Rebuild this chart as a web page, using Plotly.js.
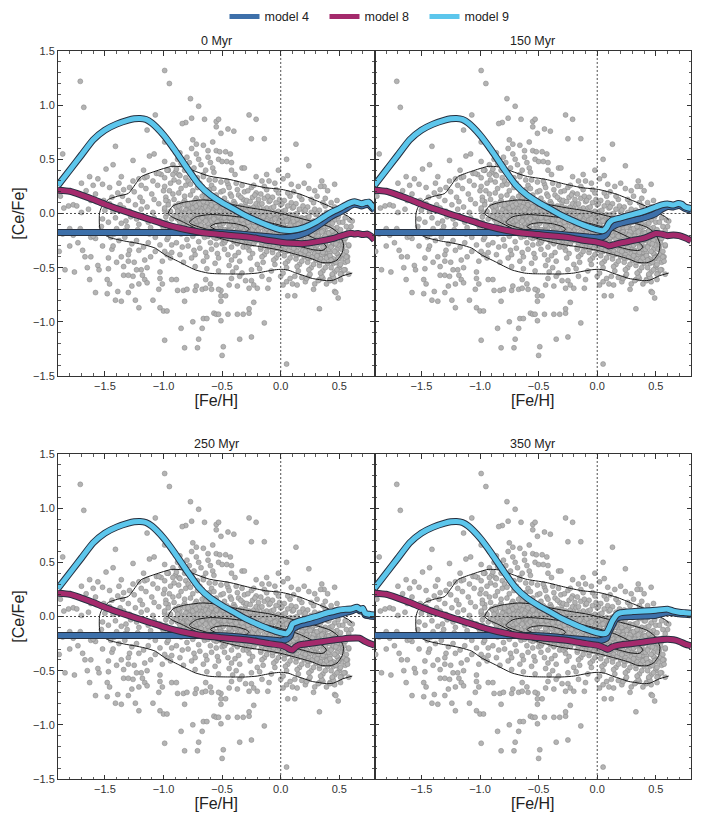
<!DOCTYPE html>
<html><head><meta charset="utf-8">
<script src="https://cdn.plot.ly/plotly-3.0.1.min.js"></script>
<style>html,body{margin:0;padding:0;background:#fff}#chart{width:703px;height:814px}</style>
</head><body><div id="chart"></div>
<script>
// ---------------- DATA ----------------
const panelTitles = ['0 Myr', '150 Myr', '250 Myr', '350 Myr'];
const modelNames = ['model 4', 'model 8', 'model 9'];

// stars: [Fe/H], [Ce/Fe] pairs
const starsUpper = [[-0.99,1.32],[-0.95,1.20],[-1.71,1.22],[-1.68,0.98],[-0.77,1.06],[-0.70,0.99],[-1.07,0.91],[-0.65,0.87],[-0.76,0.88],[-0.81,0.84],[-0.84,0.83],[-1.14,0.77],[-0.55,0.85],[-0.75,0.68],[-0.99,0.66],[-0.66,0.63],[-0.55,0.58],[-1.86,0.55],[-1.41,0.62],[-1.12,0.53],[-1.08,0.55],[-1.26,0.49],[-1.49,0.41],[-1.36,0.34],[-1.63,0.34],[-1.56,0.32],[-1.43,0.45],[-1.17,0.40],[-1.21,0.32],[-0.99,0.48],
[-0.27,0.91],[-0.21,0.87],[-0.25,0.69],[-0.14,0.69],[-0.53,0.87],[-0.55,0.80],[-0.51,0.74],[-0.45,0.78],[-0.40,0.76],[0.13,0.64],[0.05,0.50],[0.24,0.44],[-0.52,0.57],[-0.47,0.57],[-0.43,0.55],[-0.53,0.50],[-0.50,0.48],[-0.46,0.48],[-0.42,0.47],[-0.33,0.42],[-0.31,0.42],[-0.42,0.40],[-0.39,0.36],[-0.21,0.34],[-0.16,0.30],[-0.10,0.30],[-0.05,0.28],[0.02,0.32],[0.06,0.35],[0.11,0.20],[0.24,0.23],[0.29,0.21],[0.35,0.30],[0.37,0.25],[0.34,0.25],[0.46,0.27],[0.40,0.21],
[-0.92,0.45],[-0.88,0.50],[-0.85,0.46],[-0.80,0.52],[-0.78,0.47],[-0.72,0.55],[-0.70,0.50],[-0.68,0.45],[-0.62,0.52],[-0.60,0.47],[-0.58,0.42],[-0.64,0.40],[-0.74,0.42],[-0.82,0.40],[-0.90,0.38],[-0.96,0.40],[-1.02,0.36],[-0.87,0.36],[-0.66,0.36],[-0.57,0.38],[-0.76,0.60],[-0.62,0.58],[-0.86,0.56],[-0.72,0.64],[-0.58,0.66],[-0.92,0.60],
[0.55,0.05],[0.52,0.05],[0.48,0.12],[0.43,0.10],[0.38,0.14],[0.31,0.16],[0.20,0.28],[0.15,0.25],[-0.02,0.40],[0.09,0.27],[-0.12,0.36]];

const starsLeft = [[-1.81,0.07],[-1.77,0.08],[-1.74,0.07],[-1.66,0.21],[-1.60,0.26],[-1.70,0.28],[-1.88,0.16],[-1.62,0.12],[-1.58,0.18],[-1.85,0.05],[-1.52,0.27],[-1.46,0.24],[-1.38,0.28],[-1.34,0.22],[-1.70,0.01],[-1.64,0.04]];

const starsLower = [[-1.80,-0.30],[-1.84,-0.52],[-1.76,-0.54],[-1.69,-0.34],[-1.67,-0.40],[-1.62,-0.40],[-1.65,-0.50],[-1.63,-0.61],[-1.58,-0.73],[-1.47,-0.41],[-1.56,-0.48],[-1.55,-0.52],[-1.47,-0.51],[-1.48,-0.61],[-1.46,-0.65],[-1.48,-0.74],[-1.39,-0.72],[-1.41,-0.80],[-1.36,-0.81],[-1.34,-0.49],[-1.30,-0.44],[-1.29,-0.34],[-1.30,-0.38],[-1.34,-0.57],[-1.30,-0.57],[-1.30,-0.73],[-1.27,-0.67],[-1.24,-0.80],[-1.21,-0.65],[-1.21,-0.87],[-1.18,-0.57],[-1.16,-0.61],[-1.14,-0.64],[-1.14,-0.50],[-1.19,-0.52],[-1.23,-0.52],[-1.25,-0.45],[-1.16,-0.43],[-1.09,-0.80],[-1.03,-0.54],[-1.03,-0.60],[-1.01,-0.65],[-1.04,-0.70],[-1.03,-0.87],[-1.00,-0.90],[-0.97,-0.90],[-0.99,-1.17],[-0.93,-0.61],[-0.89,-0.61],[-0.88,-0.71],[-0.83,-0.71],[-0.82,-0.81],[-0.80,-0.70],[-0.85,-1.06],[-0.82,-1.24],[-0.75,-1.00],[-0.70,-1.16],[-0.71,-1.24],[-0.67,-1.06],[-0.66,-0.97],[-0.63,-0.97],[-0.73,-0.71],[-0.72,-0.67],[-0.67,-0.70],[-0.64,-0.69],[-0.59,-0.70],[-0.60,-0.65],[-0.64,-0.61],[-0.57,-0.92],[-1.86,-0.19],[-1.80,-0.14],[-1.71,-0.14],[-1.77,-0.20],[-1.62,-0.22],[-1.58,-0.23],[-1.60,-0.21],[-1.89,-0.35],[-1.73,-0.27],[-1.52,-0.30],[-1.44,-0.33],[-1.40,-0.45],[-1.36,-0.40],[-1.26,-0.58]];

const starsLowerRight = [[0.05,-1.39],[-0.49,-1.23],[-0.50,-1.31],[-0.35,-1.16],[-0.25,-1.14],[-0.14,-1.01],[-0.51,-0.99],[-0.55,-0.93],[-0.53,-0.93],[-0.45,-0.93],[-0.37,-0.93],[-0.32,-0.93],[-0.27,-0.92],[-0.27,-0.88],[-0.23,-0.82],[0.33,-0.88],[0.06,-0.76],[0.12,-0.76],[0.46,-0.72],[0.47,-0.73],[0.49,-0.78],[-0.51,-0.76],[-0.51,-0.81],[-0.47,-0.76],[-0.51,-0.71],[-0.53,-0.70],[-0.37,-0.67],[-0.27,-0.69],[-0.25,-0.62],[-0.23,-0.66],[-0.20,-0.69],[-0.11,-0.69],[-0.10,-0.61],[0.00,-0.58],[0.02,-0.66],[0.05,-0.63],[0.10,-0.65],[0.14,-0.66],[0.21,-0.63],[0.28,-0.70],[0.29,-0.65],[0.39,-0.65],[0.33,-0.61],[0.36,-0.60],[0.42,-0.61],[0.46,-0.63],[0.51,-0.61],[0.58,-0.56],[-0.42,-0.60],[-0.35,-0.58],[-0.30,-0.62],[-0.44,-0.66],[-0.16,-0.58],[0.08,-0.60],[0.18,-0.59],[0.24,-0.58],[0.44,-0.57],[0.52,-0.55],[0.55,-0.52],[0.50,-0.50],[0.59,-0.06],[0.61,-0.07],[0.60,-0.12],[0.56,-0.20],[0.58,-0.30],[0.57,-0.40],[0.55,-0.45]];

const starsBandMetalPoor = [[-1.53,-0.12],[-1.50,0.03],[-1.48,-0.18],[-1.46,0.09],[-1.52,-0.05],[-1.47,-0.08],[-1.51,0.12],[-1.45,-0.22],
[-1.43,0.02],[-1.40,-0.14],[-1.44,0.15],[-1.38,-0.25],[-1.41,-0.04],[-1.37,0.08],[-1.42,-0.19],[-1.39,0.19],[-1.36,-0.09],[-1.43,-0.30],
[-1.34,0.05],[-1.31,-0.12],[-1.29,0.24],[-1.33,-0.22],[-1.30,0.12],[-1.28,-0.03],[-1.35,0.16],[-1.27,-0.28],[-1.32,-0.07],[-1.29,0.02],[-1.26,0.30],[-1.33,-0.16],
[-1.24,0.08],[-1.21,-0.10],[-1.19,0.26],[-1.23,-0.25],[-1.20,0.15],[-1.18,-0.02],[-1.25,0.20],[-1.17,-0.31],[-1.22,-0.15],[-1.19,0.04],[-1.16,0.33],[-1.23,-0.05],[-1.18,0.11],[-1.21,-0.34],
[-1.14,0.06],[-1.11,-0.13],[-1.09,0.30],[-1.13,-0.27],[-1.10,0.18],[-1.08,-0.04],[-1.15,0.23],[-1.07,-0.35],[-1.12,-0.19],[-1.09,0.01],[-1.06,0.37],[-1.13,-0.08],[-1.08,0.13],[-1.11,-0.40],[-1.14,0.34],[-1.07,-0.22],
[-1.04,0.09],[-1.01,-0.11],[-0.99,0.33],[-1.03,-0.29],[-1.00,0.21],[-0.98,-0.03],[-1.05,0.26],[-0.97,-0.38],[-1.02,-0.18],[-0.99,0.03],[-0.96,0.40],[-1.03,-0.07],[-0.98,0.15],[-1.01,-0.44],[-1.04,0.37],[-0.97,-0.24],[-1.00,-0.14],[-0.96,0.11]];

const starsBandMid = [[-0.98,0.12],[-0.93,-0.05],[-0.91,0.31],[-0.96,-0.22],[-0.94,0.02],[-0.99,-0.35],[-0.92,0.18],[-0.97,0.40],[-0.95,-0.12],[-0.90,0.07],[-0.93,-0.29],[-0.99,0.25],[-0.91,-0.02],[-0.96,0.08],[-0.94,-0.41],[-0.92,0.36],[-0.98,-0.08],[-0.90,-0.17],[-0.95,0.21],[-0.97,0.00],[-0.91,0.13],[-0.93,-0.36],[-0.99,0.05],[-0.94,0.28],
[-0.88,0.04],[-0.84,-0.11],[-0.81,0.26],[-0.86,0.35],[-0.83,-0.03],[-0.89,-0.27],[-0.82,0.12],[-0.87,0.19],[-0.85,-0.19],[-0.80,0.07],[-0.86,-0.38],[-0.89,0.41],[-0.82,-0.07],[-0.84,0.01],[-0.88,-0.14],[-0.81,0.33],[-0.87,0.09],[-0.83,-0.45],[-0.85,0.23],[-0.80,-0.24],[-0.86,-0.01],[-0.82,0.16],[-0.89,0.06],[-0.84,-0.31],[-0.81,-0.09],[-0.87,0.29],[-0.83,0.10],[-0.88,-0.05],
[-0.78,0.02],[-0.74,-0.13],[-0.71,0.24],[-0.76,0.37],[-0.73,-0.06],[-0.79,-0.30],[-0.72,0.10],[-0.77,0.17],[-0.75,-0.21],[-0.70,0.05],[-0.76,-0.41],[-0.79,0.30],[-0.72,-0.09],[-0.74,-0.01],[-0.78,-0.16],[-0.71,0.33],[-0.77,0.08],[-0.73,-0.49],[-0.75,0.21],[-0.70,-0.26],[-0.76,-0.03],[-0.72,0.14],[-0.79,0.04],[-0.74,-0.34],[-0.71,-0.11],[-0.77,0.27],[-0.73,0.12],[-0.78,-0.07],[-0.75,-0.18],[-0.71,-0.02],[-0.76,0.09],[-0.73,-0.38],
[-0.68,0.01],[-0.64,-0.14],[-0.61,0.22],[-0.66,0.34],[-0.63,-0.07],[-0.69,-0.32],[-0.62,0.09],[-0.67,0.16],[-0.65,-0.22],[-0.60,0.03],[-0.66,-0.44],[-0.69,0.28],[-0.62,-0.10],[-0.64,-0.03],[-0.68,-0.17],[-0.61,0.31],[-0.67,0.07],[-0.63,-0.51],[-0.65,0.19],[-0.60,-0.27],[-0.66,-0.05],[-0.62,0.12],[-0.69,0.05],[-0.64,-0.36],[-0.61,-0.12],[-0.67,0.25],[-0.63,0.11],[-0.68,-0.08],[-0.65,-0.19],[-0.61,-0.03],[-0.66,0.08],[-0.63,-0.40],[-0.69,-0.12],[-0.62,-0.21],[-0.67,-0.01],[-0.64,0.14],
[-0.58,0.00],[-0.54,-0.15],[-0.51,0.20],[-0.56,0.31],[-0.53,-0.08],[-0.59,-0.33],[-0.52,0.08],[-0.57,0.15],[-0.55,-0.23],[-0.50,0.02],[-0.56,-0.46],[-0.59,0.26],[-0.52,-0.11],[-0.54,-0.04],[-0.58,-0.18],[-0.51,0.29],[-0.57,0.06],[-0.53,-0.53],[-0.55,0.17],[-0.50,-0.28],[-0.56,-0.06],[-0.52,0.11],[-0.59,0.04],[-0.54,-0.37],[-0.51,-0.13],[-0.57,0.23],[-0.53,0.10],[-0.58,-0.09],[-0.55,-0.20],[-0.51,-0.04],[-0.56,0.07],[-0.53,-0.41],[-0.59,-0.14],[-0.52,-0.22],[-0.57,-0.02],[-0.54,0.13],[-0.50,-0.17],[-0.55,-0.29]];

const starsBandCore = [[-0.47,-0.02],[-0.43,0.18],[-0.49,-0.24],[-0.41,-0.09],[-0.45,0.27],[-0.48,0.06],[-0.42,-0.31],[-0.46,-0.15],[-0.40,0.11],[-0.44,-0.48],[-0.49,0.21],[-0.43,-0.05],[-0.47,-0.19],[-0.41,0.02],[-0.45,-0.38],[-0.48,0.14],[-0.42,-0.12],[-0.46,0.30],[-0.40,-0.26],[-0.44,0.08],[-0.49,-0.07],[-0.43,-0.21],[-0.47,0.04],[-0.41,-0.54],[-0.45,-0.16],[-0.48,-0.33],[-0.42,0.16],[-0.46,-0.01],[-0.40,-0.10],[-0.44,0.24],[-0.48,-0.27],[-0.42,-0.43],[-0.46,0.10],[-0.43,-0.14],[-0.47,-0.22],[-0.41,0.06],[-0.45,-0.04],[-0.49,0.00],
[-0.38,-0.11],[-0.34,0.07],[-0.31,-0.27],[-0.37,0.22],[-0.33,-0.04],[-0.39,-0.19],[-0.32,0.13],[-0.36,-0.36],[-0.30,-0.08],[-0.35,0.01],[-0.38,-0.50],[-0.33,0.26],[-0.37,-0.14],[-0.31,-0.02],[-0.34,-0.23],[-0.39,0.09],[-0.32,-0.31],[-0.36,0.17],[-0.30,-0.17],[-0.35,-0.44],[-0.38,0.04],[-0.33,-0.12],[-0.37,-0.28],[-0.31,0.20],[-0.34,-0.06],[-0.39,-0.39],[-0.32,0.00],[-0.36,-0.21],[-0.30,0.10],[-0.35,-0.15],[-0.38,0.28],[-0.33,-0.55],[-0.37,-0.01],[-0.31,-0.13],[-0.34,0.15],[-0.39,-0.25],[-0.32,-0.09],[-0.36,0.05],
[-0.28,0.03],[-0.24,-0.16],[-0.21,0.19],[-0.27,-0.29],[-0.23,-0.05],[-0.29,0.12],[-0.22,-0.22],[-0.26,-0.41],[-0.20,-0.10],[-0.25,0.24],[-0.28,-0.18],[-0.23,0.06],[-0.27,-0.34],[-0.21,-0.01],[-0.24,0.15],[-0.29,-0.25],[-0.22,-0.13],[-0.26,0.00],[-0.20,-0.47],[-0.25,-0.08],[-0.28,0.21],[-0.23,-0.27],[-0.27,-0.11],[-0.21,0.09],[-0.24,-0.37],[-0.29,-0.03],[-0.22,0.17],[-0.26,-0.20],[-0.20,0.02],[-0.25,-0.52],[-0.28,-0.14],[-0.23,0.26],[-0.27,0.05],[-0.21,-0.24],[-0.24,-0.07],[-0.29,-0.31],[-0.22,-0.17],[-0.26,0.11],
[-0.18,-0.04],[-0.14,0.14],[-0.11,-0.21],[-0.17,-0.33],[-0.13,0.02],[-0.19,-0.14],[-0.12,0.22],[-0.16,-0.27],[-0.10,-0.09],[-0.15,-0.45],[-0.18,0.08],[-0.13,-0.18],[-0.17,0.18],[-0.11,-0.03],[-0.14,-0.38],[-0.19,-0.22],[-0.12,0.05],[-0.16,-0.12],[-0.10,0.11],[-0.15,-0.29],[-0.18,-0.51],[-0.13,-0.07],[-0.17,0.00],[-0.11,-0.25],[-0.14,0.25],[-0.19,0.13],[-0.12,-0.16],[-0.16,-0.40],[-0.10,-0.31],[-0.15,0.04],[-0.18,-0.19],[-0.13,-0.11],[-0.17,-0.24],[-0.11,0.16],[-0.14,-0.01],[-0.19,-0.07],[-0.12,-0.35],[-0.16,0.09],
[-0.08,-0.07],[-0.04,0.10],[-0.01,-0.24],[-0.07,-0.36],[-0.03,-0.01],[-0.09,-0.17],[-0.02,0.19],[-0.06,-0.30],[0.00,-0.12],[-0.05,-0.47],[-0.08,0.05],[-0.03,-0.21],[-0.07,0.15],[-0.01,-0.05],[-0.04,-0.41],[-0.09,-0.26],[-0.02,0.02],[-0.06,-0.15],[0.00,0.08],[-0.05,-0.32],[-0.08,-0.53],[-0.03,-0.10],[-0.07,-0.02],[-0.01,-0.28],[-0.04,0.22],[-0.09,0.12],[-0.02,-0.19],[-0.06,-0.43],[0.00,-0.34],[-0.05,0.01],[-0.08,-0.22],[-0.03,-0.14],[-0.07,-0.27],[-0.01,0.13],[-0.04,-0.04],[-0.09,-0.09],[-0.02,-0.38],[-0.06,0.06]];

const starsBandRich = [[0.02,-0.10],[0.06,0.07],[0.09,-0.27],[0.03,-0.39],[0.07,-0.04],[0.01,-0.20],[0.08,0.16],[0.04,-0.33],[0.10,-0.15],[0.05,-0.50],[0.02,0.02],[0.07,-0.24],[0.03,0.12],[0.09,-0.08],[0.06,-0.44],[0.01,-0.29],[0.08,-0.01],[0.04,-0.18],[0.10,0.05],[0.05,-0.35],[0.02,-0.55],[0.07,-0.13],[0.03,-0.05],[0.09,-0.31],[0.06,0.19],[0.01,0.09],[0.08,-0.22],[0.04,-0.46],[0.10,-0.37],[0.05,-0.02],[0.02,-0.25],[0.07,-0.17],[0.03,-0.30],[0.09,0.10],[0.06,-0.07],[0.01,-0.12],[0.08,-0.41],[0.04,0.03],
[0.12,-0.13],[0.16,0.04],[0.19,-0.30],[0.13,-0.42],[0.17,-0.07],[0.11,-0.23],[0.18,0.13],[0.14,-0.36],[0.20,-0.18],[0.15,-0.53],[0.12,-0.01],[0.17,-0.27],[0.13,0.09],[0.19,-0.11],[0.16,-0.47],[0.11,-0.32],[0.18,-0.04],[0.14,-0.21],[0.20,0.02],[0.15,-0.38],[0.12,-0.58],[0.17,-0.16],[0.13,-0.08],[0.19,-0.34],[0.16,0.16],[0.11,0.06],[0.18,-0.25],[0.14,-0.49],[0.20,-0.40],[0.15,-0.05],[0.12,-0.28],[0.17,-0.20],[0.13,-0.33],[0.19,0.07],[0.16,-0.10],[0.11,-0.15],[0.18,-0.44],[0.14,0.00],
[0.22,-0.16],[0.26,0.01],[0.29,-0.33],[0.23,-0.45],[0.27,-0.10],[0.21,-0.26],[0.28,0.10],[0.24,-0.39],[0.30,-0.21],[0.25,-0.56],[0.22,-0.04],[0.27,-0.30],[0.23,0.06],[0.29,-0.14],[0.26,-0.50],[0.21,-0.35],[0.28,-0.07],[0.24,-0.24],[0.30,-0.01],[0.25,-0.41],[0.22,-0.60],[0.27,-0.19],[0.23,-0.11],[0.29,-0.37],[0.26,0.13],[0.21,0.03],[0.28,-0.28],[0.24,-0.52],[0.30,-0.43],[0.25,-0.08],[0.22,-0.31],[0.27,-0.23],[0.23,-0.36],[0.29,0.04],[0.26,-0.13],[0.21,-0.18],[0.28,-0.47],[0.24,-0.03],
[0.32,-0.19],[0.36,-0.02],[0.39,-0.36],[0.33,-0.48],[0.37,-0.13],[0.31,-0.29],[0.38,0.07],[0.34,-0.42],[0.40,-0.24],[0.35,-0.58],[0.32,-0.07],[0.37,-0.33],[0.33,0.03],[0.39,-0.17],[0.36,-0.53],[0.31,-0.38],[0.38,-0.10],[0.34,-0.27],[0.40,-0.04],[0.35,-0.44],[0.32,-0.62],[0.37,-0.22],[0.33,-0.14],[0.39,-0.40],[0.36,0.10],[0.31,0.00],[0.38,-0.31],[0.34,-0.55],[0.40,-0.46],[0.35,-0.11],[0.32,-0.34],[0.37,-0.26],[0.33,-0.39],[0.39,0.01],[0.36,-0.16],[0.31,-0.21],[0.38,-0.50],[0.34,-0.06],
[0.42,-0.22],[0.46,-0.06],[0.49,-0.38],[0.43,-0.50],[0.47,-0.16],[0.41,-0.31],[0.48,0.03],[0.44,-0.44],[0.50,-0.27],[0.45,-0.59],[0.42,-0.10],[0.47,-0.35],[0.43,-0.01],[0.49,-0.20],[0.46,-0.54],[0.41,-0.40],[0.48,-0.13],[0.44,-0.29],[0.50,-0.08],[0.45,-0.46],[0.42,-0.62],[0.47,-0.25],[0.43,-0.17],[0.49,-0.42],[0.46,0.06],[0.41,-0.04],[0.48,-0.33],[0.44,-0.56],[0.50,-0.48],[0.45,-0.14],[0.42,-0.36],[0.47,-0.28],[0.43,-0.41],[0.49,-0.03],[0.46,-0.19],[0.41,-0.24],[0.48,-0.52],[0.44,-0.09],
[0.52,-0.25],[0.56,-0.12],[0.54,-0.38],[0.51,-0.47],[0.57,-0.20],[0.53,-0.31],[0.55,-0.04],[0.52,-0.42],[0.58,-0.29],[0.54,-0.52],[0.51,-0.15],[0.56,-0.35],[0.53,-0.08],[0.57,-0.44],[0.55,-0.23],[0.52,-0.33],[0.58,-0.16],[0.54,-0.27],[0.51,-0.56],[0.56,-0.40]];

const starsCoreDense = [[-0.89,-0.03],[-0.86,0.05],[-0.84,-0.06],[-0.82,0.08],[-0.88,0.02],[-0.85,-0.01],[-0.81,0.03],[-0.83,-0.09],[-0.87,0.07],[-0.80,-0.04],[-0.86,-0.08],[-0.82,0.00],
[-0.79,-0.05],[-0.77,0.06],[-0.75,-0.10],[-0.73,0.09],[-0.71,-0.03],[-0.78,0.01],[-0.76,-0.14],[-0.74,0.03],[-0.72,-0.07],[-0.70,0.11],[-0.79,0.08],[-0.77,-0.02],[-0.75,0.05],[-0.73,-0.12],[-0.71,0.02],[-0.78,-0.09],[-0.74,-0.05],[-0.72,0.07],
[-0.69,-0.06],[-0.67,0.04],[-0.65,-0.12],[-0.63,0.10],[-0.61,-0.02],[-0.68,0.02],[-0.66,-0.15],[-0.64,0.06],[-0.62,-0.09],[-0.60,0.12],[-0.69,0.09],[-0.67,-0.04],[-0.65,0.01],[-0.63,-0.17],[-0.61,0.05],[-0.68,-0.11],[-0.64,-0.07],[-0.62,0.03],[-0.66,0.11],[-0.60,-0.13],[-0.63,-0.01],[-0.67,-0.19],
[-0.59,-0.07],[-0.57,0.03],[-0.55,-0.14],[-0.53,0.09],[-0.51,-0.03],[-0.58,0.01],[-0.56,-0.18],[-0.54,0.05],[-0.52,-0.10],[-0.50,0.11],[-0.59,0.08],[-0.57,-0.05],[-0.55,-0.01],[-0.53,-0.20],[-0.51,0.04],[-0.58,-0.12],[-0.54,-0.08],[-0.52,0.02],[-0.56,0.10],[-0.50,-0.15],[-0.53,-0.02],[-0.57,-0.22],[-0.55,0.06],[-0.51,-0.17],[-0.59,-0.16],
[-0.49,-0.09],[-0.47,0.02],[-0.45,-0.17],[-0.43,0.07],[-0.41,-0.05],[-0.48,-0.01],[-0.46,-0.21],[-0.44,0.04],[-0.42,-0.13],[-0.40,0.08],[-0.49,0.06],[-0.47,-0.07],[-0.45,-0.03],[-0.43,-0.23],[-0.41,0.01],[-0.48,-0.15],[-0.44,-0.11],[-0.42,-0.01],[-0.46,0.08],[-0.40,-0.19],[-0.43,-0.04],[-0.47,-0.25],[-0.45,0.03],[-0.41,-0.21],[-0.49,-0.19],[-0.44,-0.16],[-0.48,-0.04],[-0.42,-0.08],
[-0.39,-0.11],[-0.37,0.00],[-0.35,-0.20],[-0.33,0.05],[-0.31,-0.07],[-0.38,-0.03],[-0.36,-0.24],[-0.34,0.02],[-0.32,-0.15],[-0.30,0.06],[-0.39,0.04],[-0.37,-0.09],[-0.35,-0.05],[-0.33,-0.26],[-0.31,-0.01],[-0.38,-0.17],[-0.34,-0.13],[-0.32,-0.03],[-0.36,0.06],[-0.30,-0.22],[-0.33,-0.06],[-0.37,-0.27],[-0.35,0.01],[-0.31,-0.23],[-0.39,-0.21],[-0.34,-0.18],[-0.38,-0.06],[-0.32,-0.10],
[-0.29,-0.13],[-0.27,-0.02],[-0.25,-0.22],[-0.23,0.03],[-0.21,-0.09],[-0.28,-0.05],[-0.26,-0.26],[-0.24,0.00],[-0.22,-0.17],[-0.20,0.04],[-0.29,0.02],[-0.27,-0.11],[-0.25,-0.07],[-0.23,-0.28],[-0.21,-0.03],[-0.28,-0.19],[-0.24,-0.15],[-0.22,-0.05],[-0.26,0.04],[-0.20,-0.24],[-0.23,-0.08],[-0.27,-0.29],[-0.25,-0.01],[-0.21,-0.25],[-0.29,-0.23],[-0.24,-0.20],[-0.28,-0.08],[-0.22,-0.12],
[-0.19,-0.15],[-0.17,-0.04],[-0.15,-0.24],[-0.13,0.01],[-0.11,-0.11],[-0.18,-0.07],[-0.16,-0.28],[-0.14,-0.02],[-0.12,-0.19],[-0.10,0.02],[-0.19,0.00],[-0.17,-0.13],[-0.15,-0.09],[-0.13,-0.30],[-0.11,-0.05],[-0.18,-0.21],[-0.14,-0.17],[-0.12,-0.07],[-0.16,0.02],[-0.10,-0.26],[-0.13,-0.10],[-0.17,-0.31],[-0.15,-0.03],[-0.11,-0.27],[-0.19,-0.25],[-0.14,-0.22],[-0.18,-0.10],[-0.12,-0.14],
[-0.09,-0.17],[-0.07,-0.06],[-0.05,-0.26],[-0.03,-0.01],[-0.01,-0.13],[-0.08,-0.09],[-0.06,-0.30],[-0.04,-0.04],[-0.02,-0.21],[0.00,0.00],[-0.09,-0.02],[-0.07,-0.15],[-0.05,-0.11],[-0.03,-0.32],[-0.01,-0.07],[-0.08,-0.23],[-0.04,-0.19],[-0.02,-0.09],[-0.06,0.00],[0.00,-0.28],[-0.03,-0.12],[-0.07,-0.33],[-0.05,-0.05],[-0.01,-0.29],[-0.09,-0.27],[-0.04,-0.24],[-0.08,-0.12],[-0.02,-0.16],
[0.01,-0.19],[0.03,-0.08],[0.05,-0.28],[0.07,-0.03],[0.09,-0.15],[0.02,-0.11],[0.04,-0.32],[0.06,-0.06],[0.08,-0.23],[0.10,-0.02],[0.01,-0.04],[0.03,-0.17],[0.05,-0.13],[0.07,-0.34],[0.09,-0.09],[0.02,-0.25],[0.06,-0.21],[0.08,-0.11],[0.04,-0.02],[0.10,-0.30],[0.07,-0.14],[0.03,-0.35],[0.05,-0.07],[0.09,-0.31],[0.01,-0.29],[0.06,-0.26],[0.02,-0.14],[0.08,-0.18],
[0.11,-0.22],[0.13,-0.11],[0.15,-0.31],[0.17,-0.06],[0.19,-0.18],[0.12,-0.14],[0.14,-0.35],[0.16,-0.09],[0.18,-0.26],[0.20,-0.05],[0.11,-0.07],[0.13,-0.20],[0.15,-0.16],[0.17,-0.37],[0.19,-0.12],[0.12,-0.28],[0.16,-0.24],[0.18,-0.14],[0.14,-0.05],[0.20,-0.33],[0.17,-0.17],[0.13,-0.38],[0.15,-0.10],[0.19,-0.34],[0.11,-0.32],[0.16,-0.29],[0.12,-0.17],[0.18,-0.21],
[0.21,-0.25],[0.23,-0.14],[0.25,-0.34],[0.27,-0.09],[0.29,-0.21],[0.22,-0.17],[0.24,-0.38],[0.26,-0.12],[0.28,-0.29],[0.30,-0.08],[0.21,-0.10],[0.23,-0.23],[0.25,-0.19],[0.27,-0.40],[0.29,-0.15],[0.22,-0.31],[0.26,-0.27],[0.28,-0.17],[0.24,-0.08],[0.30,-0.36],[0.27,-0.20],[0.23,-0.41],[0.25,-0.13],[0.29,-0.37],[0.21,-0.35],[0.26,-0.32],[0.22,-0.20],[0.28,-0.24],
[0.31,-0.29],[0.33,-0.18],[0.35,-0.38],[0.37,-0.13],[0.39,-0.25],[0.32,-0.21],[0.34,-0.42],[0.36,-0.16],[0.38,-0.33],[0.40,-0.12],[0.31,-0.14],[0.33,-0.27],[0.35,-0.23],[0.37,-0.44],[0.39,-0.19],[0.32,-0.35],[0.36,-0.31],[0.38,-0.21],[0.34,-0.12],[0.40,-0.40],[0.37,-0.24],[0.33,-0.45],[0.35,-0.17],[0.39,-0.41],[0.31,-0.39],[0.36,-0.36],[0.32,-0.24],[0.38,-0.28],
[0.41,-0.33],[0.43,-0.22],[0.45,-0.42],[0.47,-0.17],[0.49,-0.29],[0.42,-0.25],[0.44,-0.44],[0.46,-0.20],[0.48,-0.37],[0.50,-0.22],[0.41,-0.18],[0.43,-0.31],[0.45,-0.27],[0.47,-0.45],[0.49,-0.23],[0.42,-0.39],[0.46,-0.35],[0.48,-0.25],[0.44,-0.16],[0.50,-0.40],[0.47,-0.28],[0.43,-0.43],[0.45,-0.21],[0.49,-0.41]];

// density contours (levels, outer to inner)
const contourOuterX = [0.61,0.53,0.45,0.39,0.33,0.27,0.20,0.13,0.07,0.01,-0.05,-0.13,-0.20,-0.30,-0.43,-0.55,-0.62,-0.73,-0.87,-0.99,-1.07,-1.16,-1.25,-1.33,-1.45,-1.50,-1.535,-1.547,-1.546,-1.53,-1.47,-1.39,-1.30,-1.24,-1.19,-1.07,-0.93,-0.84,-0.73,-0.61,-0.44,-0.27,-0.13,0.01,0.16,0.30,0.44,0.53,0.58,0.61];
const contourOuterY = [-0.55,-0.575,-0.615,-0.62,-0.61,-0.60,-0.575,-0.55,-0.525,-0.515,-0.52,-0.535,-0.55,-0.558,-0.558,-0.556,-0.55,-0.52,-0.445,-0.38,-0.32,-0.29,-0.27,-0.255,-0.225,-0.20,-0.17,-0.10,0.0,0.055,0.13,0.16,0.185,0.27,0.34,0.39,0.435,0.43,0.39,0.345,0.315,0.27,0.238,0.222,0.18,0.12,0.055,0.0,-0.03,-0.06];
const contourMidX = [-0.96,-0.92,-0.82,-0.67,-0.55,-0.40,-0.25,-0.10,0.00,0.15,0.29,0.42,0.49,0.535,0.525,0.48,0.42,0.34,0.27,0.14,0.00,-0.15,-0.30,-0.45,-0.60,-0.72,-0.84,-0.93,-0.96];
const contourMidY = [0.0,0.07,0.105,0.125,0.115,0.08,0.05,0.025,0.0,-0.04,-0.08,-0.125,-0.18,-0.28,-0.36,-0.43,-0.455,-0.45,-0.42,-0.38,-0.34,-0.31,-0.285,-0.25,-0.20,-0.14,-0.075,-0.03,0.0];
const contourInnerX = [-0.78,-0.72,-0.60,-0.45,-0.30,-0.15,0.00,0.15,0.27,0.36,0.39,0.36,0.28,0.15,0.00,-0.20,-0.40,-0.55,-0.68,-0.76,-0.78];
const contourInnerY = [-0.08,-0.03,-0.01,-0.02,-0.04,-0.07,-0.11,-0.16,-0.22,-0.27,-0.31,-0.34,-0.335,-0.30,-0.27,-0.23,-0.20,-0.17,-0.13,-0.10,-0.08];
const contourPeakX = [-0.60,-0.56,-0.48,-0.38,-0.30,-0.27,-0.29,-0.36,-0.46,-0.55,-0.60];
const contourPeakY = [-0.12,-0.095,-0.085,-0.095,-0.12,-0.145,-0.165,-0.17,-0.165,-0.15,-0.12];

// model tracks: shared metal-poor part
const modelFeH = [-1.9,-1.8,-1.7,-1.6,-1.5,-1.4,-1.3,-1.25,-1.2,-1.15,-1.1,-1.0,-0.9,-0.8,-0.7,-0.6,-0.5,-0.4,-0.3,-0.2,-0.1,0.0];
const model4Ce = [-0.175,-0.175,-0.175,-0.175,-0.175,-0.175,-0.175,-0.175,-0.175,-0.175,-0.175,-0.175,-0.175,-0.175,-0.175,-0.176,-0.178,-0.185,-0.195,-0.205,-0.215,-0.225];
const model8Ce = [0.215,0.205,0.17,0.13,0.085,0.045,0.01,-0.008,-0.025,-0.043,-0.06,-0.095,-0.125,-0.15,-0.17,-0.185,-0.195,-0.205,-0.215,-0.23,-0.25,-0.265];
const model9Ce = [0.26,0.40,0.54,0.68,0.77,0.825,0.862,0.874,0.877,0.868,0.835,0.725,0.58,0.42,0.27,0.17,0.10,0.04,-0.02,-0.07,-0.115,-0.15];

// metal-rich part, one per snapshot (0, 150, 250, 350 Myr)
const model4RichFeH = [
  [0.1,0.2,0.3,0.4,0.45,0.5,0.55,0.6,0.63,0.66,0.69,0.72,0.75,0.78,0.8],
  [0.05,0.08,0.1,0.15,0.2,0.3,0.4,0.5,0.55,0.6,0.65,0.7,0.75,0.8],
  [0.05,0.08,0.1,0.15,0.2,0.3,0.4,0.5,0.55,0.6,0.65,0.68,0.7,0.72,0.76,0.8],
  [0.05,0.08,0.1,0.13,0.16,0.2,0.3,0.4,0.5,0.6,0.65,0.7,0.75,0.8]];
const model4RichCe = [
  [-0.215,-0.185,-0.125,-0.05,-0.015,0.01,0.04,0.075,0.085,0.08,0.07,0.08,0.085,0.05,0.03],
  [-0.215,-0.19,-0.15,-0.11,-0.09,-0.065,-0.04,0.0,0.04,0.065,0.06,0.075,0.045,0.03],
  [-0.21,-0.18,-0.12,-0.085,-0.07,-0.048,-0.01,0.02,0.035,0.05,0.07,0.05,0.06,0.015,0.005,0.0],
  [-0.215,-0.2,-0.14,-0.08,-0.02,-0.005,0.0,0.005,0.012,0.04,0.035,0.025,0.02,0.015]];
const model8RichFeH = [
  [0.1,0.2,0.3,0.4,0.45,0.5,0.55,0.6,0.63,0.66,0.7,0.74,0.77,0.8],
  [0.05,0.08,0.1,0.13,0.2,0.3,0.4,0.5,0.55,0.6,0.65,0.7,0.75,0.8],
  [0.05,0.08,0.1,0.13,0.16,0.3,0.4,0.5,0.58,0.67,0.72,0.76,0.8],
  [0.05,0.08,0.1,0.13,0.2,0.3,0.4,0.5,0.6,0.65,0.7,0.75,0.8]];
const model8RichCe = [
  [-0.275,-0.278,-0.262,-0.242,-0.23,-0.212,-0.195,-0.182,-0.19,-0.185,-0.195,-0.19,-0.21,-0.245],
  [-0.278,-0.29,-0.30,-0.292,-0.272,-0.25,-0.228,-0.185,-0.19,-0.205,-0.198,-0.205,-0.225,-0.25],
  [-0.285,-0.305,-0.31,-0.28,-0.262,-0.24,-0.225,-0.21,-0.20,-0.20,-0.23,-0.25,-0.265],
  [-0.285,-0.30,-0.30,-0.28,-0.262,-0.25,-0.235,-0.22,-0.21,-0.215,-0.23,-0.255,-0.27]];
const model9RichFeH = [
  [0.1,0.2,0.3,0.4,0.45,0.5,0.55,0.6,0.63,0.66,0.69,0.72,0.75,0.78,0.8],
  [0.05,0.08,0.1,0.13,0.2,0.3,0.4,0.5,0.55,0.6,0.65,0.69,0.72,0.75,0.8],
  [0.05,0.08,0.1,0.15,0.2,0.3,0.4,0.45,0.5,0.55,0.6,0.65,0.68,0.7,0.72,0.76,0.8],
  [0.05,0.08,0.1,0.13,0.17,0.2,0.3,0.4,0.5,0.6,0.65,0.7,0.75,0.8]];
const model9RichCe = [
  [-0.155,-0.13,-0.08,-0.01,0.02,0.045,0.075,0.10,0.108,0.10,0.09,0.10,0.105,0.07,0.045],
  [-0.158,-0.13,-0.09,-0.06,-0.04,-0.01,0.02,0.06,0.08,0.088,0.078,0.092,0.085,0.06,0.045],
  [-0.158,-0.12,-0.07,-0.045,-0.03,0.0,0.035,0.045,0.06,0.066,0.07,0.085,0.065,0.075,0.03,0.02,0.015],
  [-0.16,-0.15,-0.11,-0.04,0.02,0.035,0.045,0.05,0.058,0.068,0.05,0.04,0.035,0.03]];

const refFeH = [-1.9, 0.8];
const refCe = [-1.5, 1.5];

// ---------------- STYLE ----------------
const FONT = 'Liberation Sans, Arial, Helvetica, sans-serif';
const colors = {m4: '#3d70aa', m8: '#a42a6c', m9: '#5cc6ec', edge: '#263040'};
const starGroups = [starsUpper, starsLeft, starsLower, starsLowerRight, starsBandMetalPoor, starsBandMid, starsBandCore, starsBandRich, starsCoreDense];
const allStars = [].concat(...starGroups);
const starX = allStars.map(p => p[0]);
const starY = allStars.map(p => p[1]);
const contX = [].concat(contourOuterX, [null], contourMidX, [null], contourInnerX, [null], contourPeakX);
const contY = [].concat(contourOuterY, [null], contourMidY, [null], contourInnerY, [null], contourPeakY);

const traces = [];
const suffixes = ['', '2', '3', '4'];
suffixes.forEach((s, i) => {
  const xa = 'x' + s, ya = 'y' + s;
  traces.push({type:'scatter', mode:'markers', x:starX, y:starY, xaxis:xa, yaxis:ya,
    marker:{size:5, color:'#b3b3b3', line:{color:'#858585', width:0.5}}, showlegend:false, hoverinfo:'skip'});
  traces.push({type:'scatter', mode:'lines', x:contX, y:contY, xaxis:xa, yaxis:ya,
    line:{color:'#1a1a1a', width:1, shape:'spline', smoothing:0.6}, connectgaps:false, showlegend:false, hoverinfo:'skip'});
  traces.push({type:'scatter', mode:'lines', x:[0,0], y:refCe, xaxis:xa, yaxis:ya,
    line:{color:'#222', width:0.8, dash:'2px,2px'}, showlegend:false, hoverinfo:'skip'});
  traces.push({type:'scatter', mode:'lines', x:refFeH, y:[0,0], xaxis:xa, yaxis:ya,
    line:{color:'#222', width:0.8, dash:'2px,2px'}, showlegend:false, hoverinfo:'skip'});
  const models = [
    {name:modelNames[0], c:colors.m4, x:modelFeH.concat(model4RichFeH[i]), y:model4Ce.concat(model4RichCe[i])},
    {name:modelNames[1], c:colors.m8, x:modelFeH.concat(model8RichFeH[i]), y:model8Ce.concat(model8RichCe[i])},
    {name:modelNames[2], c:colors.m9, x:modelFeH.concat(model9RichFeH[i]), y:model9Ce.concat(model9RichCe[i])}];
  models.forEach(m => {
    traces.push({type:'scatter', mode:'lines', x:m.x, y:m.y, xaxis:xa, yaxis:ya,
      line:{color:colors.edge, width:7, shape:'spline', smoothing:0.5}, showlegend:false, hoverinfo:'skip'});
    traces.push({type:'scatter', mode:'lines', x:m.x, y:m.y, xaxis:xa, yaxis:ya, name:m.name, legendgroup:m.name,
      line:{color:m.c, width:5, shape:'spline', smoothing:0.5}, showlegend:(i === 0), hoverinfo:'skip'});
  });
});

function xAxis(domain, anchor) {
  return {domain, anchor, range:[-1.9, 0.8], tickmode:'linear', tick0:0, dtick:0.5, tickformat:'.1f',
    ticks:'inside', ticklen:4.5, tickwidth:1, tickcolor:'#333', mirror:'ticks', showline:true,
    linecolor:'#333', linewidth:1, showgrid:false, zeroline:false,
    minor:{ticks:'inside', ticklen:2.5, tickwidth:0.8, tickcolor:'#333', tick0:0, dtick:0.1, showgrid:false},
    tickfont:{family:FONT, size:11, color:'#333'},
    title:{text:'[Fe/H]', font:{family:FONT, size:16, color:'#222'}, standoff:0}};
}
function yAxis(domain, anchor, labels) {
  return {domain, anchor, range:[-1.5, 1.5], tickmode:'linear', tick0:0, dtick:0.5, tickformat:'.1f',
    ticks:'inside', ticklen:4.5, tickwidth:1, tickcolor:'#333', mirror:'ticks', showline:true,
    linecolor:'#333', linewidth:1, showgrid:false, zeroline:false, showticklabels:labels,
    minor:{ticks:'inside', ticklen:2.5, tickwidth:0.8, tickcolor:'#333', tick0:0, dtick:0.1, showgrid:false},
    tickfont:{family:FONT, size:11, color:'#333'},
    title: labels ? {text:'[Ce/Fe]', font:{family:FONT, size:16, color:'#222'}, standoff:4} : {text:''}};
}
const topD = [0.5536, 1], botD = [0, 0.4464];
const layout = {
  width:703, height:814, margin:{l:58, r:12, t:51, b:35, autoexpand:false},
  paper_bgcolor:'#fff', plot_bgcolor:'#fff', font:{family:FONT, color:'#222'},
  xaxis: xAxis([0, 0.5], 'y'),   yaxis: yAxis(topD, 'x', true),
  xaxis2: xAxis([0.5, 1], 'y2'), yaxis2: yAxis(topD, 'x2', false),
  xaxis3: xAxis([0, 0.5], 'y3'), yaxis3: yAxis(botD, 'x3', true),
  xaxis4: xAxis([0.5, 1], 'y4'), yaxis4: yAxis(botD, 'x4', false),
  showlegend:true,
  legend:{orientation:'h', x:0.5, xanchor:'center', y:1.047, yanchor:'middle',
    font:{family:FONT, size:12.5, color:'#222'}, bgcolor:'rgba(0,0,0,0)', itemwidth:30,
    entrywidth:55, entrywidthmode:'pixels'},
  annotations: [[0.25,1],[0.75,1],[0.25,0.4464],[0.75,0.4464]].map((p, k) => ({
    xref:'paper', yref:'paper', x:p[0], y:p[1], xanchor:'center', yanchor:'bottom', yshift:1,
    text:panelTitles[k], showarrow:false, font:{family:FONT, size:12.5, color:'#222'}}))
};
Plotly.newPlot('chart', traces, layout, {displayModeBar:false, staticPlot:true});
</script>
</body></html>
